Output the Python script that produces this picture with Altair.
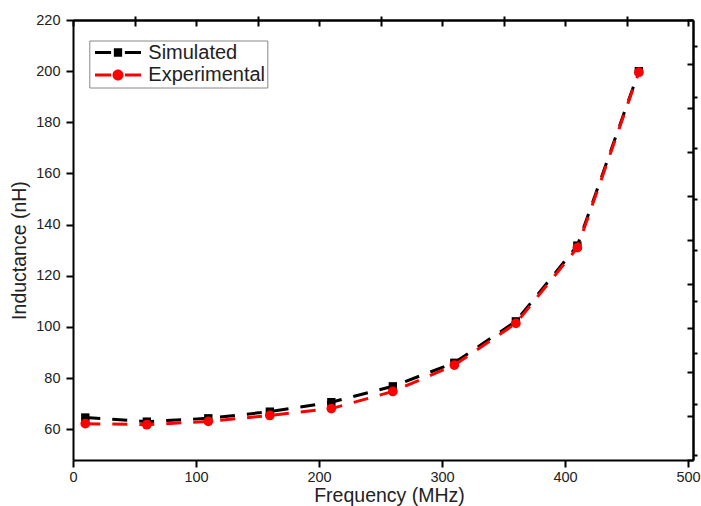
import altair as alt
import pandas as pd

# ---- data ----
freq = [10, 60, 110, 160, 210, 260, 310, 360, 410, 460]
simulated = [64.6, 63.0, 64.3, 66.9, 70.6, 76.8, 86.0, 102.2, 131.8, 200.0]
experimental = [62.2, 61.8, 63.1, 65.4, 68.1, 74.8, 85.1, 101.4, 131.0, 199.6]
series_names = ["Simulated", "Experimental"]
series_colors = ["#000000", "#ff0000"]

x_major = [0, 100, 200, 300, 400, 500]
x_minor = [50, 150, 250, 350, 450]
x_top = [0, 50, 100, 150, 200, 250, 300, 350, 400, 450, 500]
y_major = [60, 80, 100, 120, 140, 160, 180, 200, 220]
y_minor = [50, 70, 90, 110, 130, 150, 170, 190, 210]
right_ticks = list(range(0, 11))

FONT = "Liberation Sans"
TEXT = "#222222"

df = pd.DataFrame({
    "freq": freq * 2,
    "value": simulated + experimental,
    "series": [series_names[0]] * len(freq) + [series_names[1]] * len(freq),
})

xscale = alt.Scale(domain=[0, 504], nice=False, zero=False)
yscale = alt.Scale(domain=[48, 220], nice=False, zero=False)
cscale = alt.Scale(domain=series_names, range=series_colors)

# legend symbols (dash - marker - dash); unit = half of sqrt(symbolSize)
dash_part = "M-2.3,-0.15H-0.69V0.15H-2.3Z M0.69,-0.15H2.3V0.15H0.69Z "
sq_path = dash_part + "M-0.415,-0.415H0.415V0.415H-0.415Z"
circ_path = dash_part + "M0.55,0A0.55,0.55 0 1,1 -0.55,0A0.55,0.55 0 1,1 0.55,0Z"


def xenc(axis):
    return alt.X("freq:Q", scale=xscale, axis=axis)


def yenc(axis):
    return alt.Y("value:Q", scale=yscale, axis=axis)


x_major_axis = alt.Axis(values=x_major, tickSize=7, labelPadding=3,
                        title="Frequency (MHz)", titleX=316, titleY=41,
                        titleAlign="center", titleBaseline="alphabetic")
x_minor_axis = alt.Axis(values=x_minor, tickSize=4, labels=False, title=None)
x_top_axis = alt.Axis(orient="bottom", offset=-440, values=x_top, tickSize=6,
                      labels=False, title=None)
y_major_axis = alt.Axis(values=y_major, tickSize=7, labelPadding=6,
                        title="Inductance (nH)", titleX=-53.5, titleY=230,
                        titleAngle=270, titleAlign="center", titleBaseline="middle")
y_minor_axis = alt.Axis(values=y_minor, tickSize=4, labels=False, title=None)
right_axis = alt.Axis(orient="left", offset=-620, values=right_ticks, tickSize=6,
                      labels=False, title=None)

base = alt.Chart(df)
sim = base.transform_filter(alt.datum.series == series_names[0])
exp = base.transform_filter(alt.datum.series == series_names[1])

line_kw = dict(strokeWidth=3, strokeDash=[15, 12], strokeCap="butt")

sim_line = sim.mark_line(color=series_colors[0], **line_kw).encode(
    x=xenc(x_major_axis), y=yenc(y_major_axis))
sim_pts = sim.mark_point(shape="square", filled=True, size=70, opacity=1,
                         color=series_colors[0]).encode(
    x=xenc(x_minor_axis), y=yenc(y_minor_axis))
exp_line = exp.mark_line(color=series_colors[1], **line_kw).encode(
    x=xenc(x_top_axis), y=yenc(None))
exp_pts = exp.mark_point(shape="circle", filled=True, size=95, opacity=1,
                         color=series_colors[1]).encode(
    x=xenc(None), y=yenc(None))

leg = alt.Legend(title=None, orient="none", legendX=16.3, legendY=20.5)
legend_layer = base.transform_filter("false").mark_point(filled=True, opacity=1).encode(
    x=xenc(None), y=yenc(None),
    color=alt.Color("series:N", scale=cscale, legend=leg),
    shape=alt.Shape("series:N", scale=alt.Scale(domain=series_names, range=[sq_path, circ_path]), legend=leg),
)

right_layer = alt.Chart(pd.DataFrame({"r": right_ticks})).mark_point(opacity=0).encode(
    y=alt.Y("r:Q", scale=alt.Scale(domain=[0, 10], nice=False, zero=False), axis=right_axis)
)

chart = (
    alt.layer(sim_line, sim_pts, exp_line, exp_pts, legend_layer, right_layer)
    .resolve_axis(x="independent", y="independent")
    .resolve_scale(y="independent")
    .properties(width=620, height=440,
                padding={"left": 73, "top": 20, "right": 8, "bottom": 46},
                autosize=alt.AutoSizeParams(type="none"))
    .configure(background="white")
    .configure_view(stroke=None)
    .configure_axis(grid=False, domainColor="black", domainWidth=2, tickColor="black",
                    tickWidth=2, labelFont=FONT, labelFontSize=14.5, labelColor=TEXT,
                    titleFont=FONT, titleFontSize=19.5, titleColor=TEXT, titleFontWeight="normal",
                    labelFlush=False, labelOverlap=False)
    .configure_legend(orient="none", legendX=16.3, legendY=20.5,
                      padding=2, rowPadding=2.4, symbolOffset=16.7, labelOffset=20.3,
                      strokeColor="#888888", fillColor="white", labelFont=FONT,
                      labelFontSize=20, labelColor=TEXT, symbolSize=400,
                      symbolStrokeWidth=0, symbolOpacity=1, labelLimit=400)
)

chart.save("out.html", embed_options={"renderer": "svg", "actions": False})
